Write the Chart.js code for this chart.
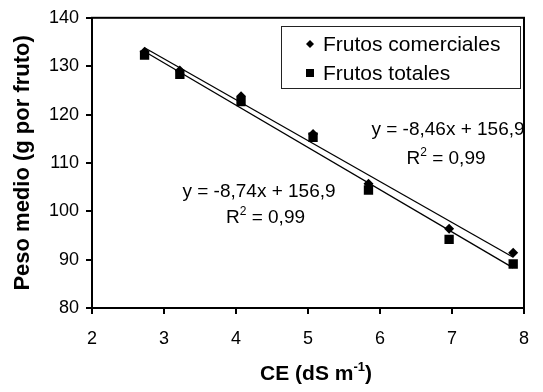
<!DOCTYPE html>
<html>
<head>
<meta charset="utf-8">
<script src="https://cdn.jsdelivr.net/npm/chart.js@4/dist/chart.umd.min.js"></script>
<style>
  html, body { margin: 0; padding: 0; background: #fff; }
  canvas { display: block; }
</style>
</head>
<body>
<canvas id="chart" width="543" height="392"></canvas>
<script>
// Electrical conductivity of the nutrient solution (dS m-1)
const ceValues = [2.73, 3.22, 4.07, 5.07, 5.84, 6.96, 7.85];
// Mean fruit weight (g per fruit)
const pesoComerciales = [133.0, 129.1, 123.8, 116.0, 105.7, 96.4, 91.4];
const pesoTotales = [132.3, 128.3, 122.7, 115.3, 104.4, 94.2, 89.1];
const seriesNames = ['Frutos comerciales', 'Frutos totales'];
// Linear fits: y = slope * x + intercept
const slopes = [-8.46, -8.74];
const intercepts = [156.9, 156.9];
const rSquared = [0.99, 0.99];
const xTickValues = [2, 3, 4, 5, 6, 7, 8];
const yTickValues = [80, 90, 100, 110, 120, 130, 140];

const FONT = '"Liberation Sans", Arial, sans-serif';
const fmt = v => String(v).replace('.', ',');

const toPoints = ys => ceValues.map((x, i) => ({ x, y: ys[i] }));
const fitLine = k => {
  const x0 = Math.min(...ceValues), x1 = Math.max(...ceValues);
  return [x0, x1].map(x => ({ x, y: slopes[k] * x + intercepts[k] }));
};

// Draw text runs, some of them as superscripts, centred on cx
function drawRuns(ctx, runs, cx, baseline, size, bold) {
  const w = bold ? 'bold ' : '';
  const supSize = Math.round(size * 0.62);
  let total = 0;
  runs.forEach(r => {
    ctx.font = w + (r.sup ? supSize : size) + 'px ' + FONT;
    r.w = ctx.measureText(r.t).width;
    total += r.w;
  });
  let x = cx - total / 2;
  ctx.textAlign = 'left';
  ctx.textBaseline = 'alphabetic';
  runs.forEach(r => {
    ctx.font = w + (r.sup ? supSize : size) + 'px ' + FONT;
    ctx.fillText(r.t, x, r.sup ? baseline - size * 0.42 : baseline);
    x += r.w;
  });
}

const annotations = {
  id: 'annotations',
  afterDraw(chart) {
    const { ctx, chartArea: a } = chart;
    ctx.save();
    // frame around the plot area
    ctx.strokeStyle = '#000';
    ctx.lineWidth = 2;
    ctx.strokeRect(a.left, a.top, a.right - a.left, a.bottom - a.top);

    // legend box
    ctx.fillStyle = '#fff';
    ctx.fillRect(281.5, 26.5, 239, 62);
    ctx.lineWidth = 1;
    ctx.strokeStyle = '#222';
    ctx.strokeRect(281.5, 26.5, 239, 62);
    ctx.fillStyle = '#000';
    // diamond
    ctx.beginPath();
    ctx.moveTo(310, 40); ctx.lineTo(314, 44); ctx.lineTo(310, 48); ctx.lineTo(306, 44);
    ctx.closePath(); ctx.fill();
    // square
    ctx.fillRect(306, 69, 8, 8);
    ctx.font = '21px ' + FONT;
    ctx.textAlign = 'left';
    ctx.textBaseline = 'alphabetic';
    ctx.fillText(seriesNames[0], 323, 51);
    ctx.fillText(seriesNames[1], 323, 80);

    // regression equations
    const eq = k => 'y = ' + fmt(slopes[k]) + 'x + ' + fmt(intercepts[k]);
    drawRuns(ctx, [{ t: eq(0) }], 448, 135, 19, false);
    drawRuns(ctx, [{ t: 'R' }, { t: '2', sup: true }, { t: ' = ' + fmt(rSquared[0].toFixed(2)) }], 446, 164, 19, false);
    drawRuns(ctx, [{ t: eq(1) }], 259, 197, 19, false);
    drawRuns(ctx, [{ t: 'R' }, { t: '2', sup: true }, { t: ' = ' + fmt(rSquared[1].toFixed(2)) }], 265.5, 223, 19, false);

    // x axis title
    drawRuns(ctx, [{ t: 'CE (dS m' }, { t: '-1', sup: true }, { t: ')' }], 316, 380, 21, true);
    ctx.restore();
  }
};

new Chart(document.getElementById('chart'), {
  type: 'scatter',
  data: {
    datasets: [
      {
        label: seriesNames[0], data: toPoints(pesoComerciales), order: 0,
        pointStyle: 'rectRot', pointRadius: 5, backgroundColor: '#000', borderColor: '#000', borderWidth: 0
      },
      {
        label: seriesNames[1], data: toPoints(pesoTotales), order: 0,
        pointStyle: 'rect', pointRadius: 6.6, backgroundColor: '#000', borderColor: '#000', borderWidth: 0
      },
      {
        label: 'fit ' + seriesNames[0], data: fitLine(0), order: 1, showLine: true,
        pointRadius: 0, borderColor: '#000', borderWidth: 1.3, fill: false
      },
      {
        label: 'fit ' + seriesNames[1], data: fitLine(1), order: 1, showLine: true,
        pointRadius: 0, borderColor: '#000', borderWidth: 1.3, fill: false
      }
    ]
  },
  options: {
    responsive: false,
    animation: false,
    devicePixelRatio: 1,
    layout: { padding: { top: 15, right: 6, left: 0, bottom: 0 } },
    plugins: { legend: { display: false }, tooltip: { enabled: false } },
    scales: {
      x: {
        type: 'linear', min: 2, max: 8,
        afterBuildTicks: s => { s.ticks = xTickValues.map(v => ({ value: v })); },
        afterFit: s => { s.height = 84; },
        grid: { drawOnChartArea: false, drawTicks: true, tickLength: 6, color: '#000', lineWidth: 2 },
        border: { color: '#000', width: 2 },
        ticks: { color: '#000', padding: 14, font: { family: FONT, size: 18 } }
      },
      y: {
        type: 'linear', min: 80, max: 140,
        afterBuildTicks: s => { s.ticks = yTickValues.map(v => ({ value: v })); },
        afterFit: s => { s.width = 92; },
        grid: { drawOnChartArea: false, drawTicks: true, tickLength: 6, color: '#000', lineWidth: 2 },
        border: { color: '#000', width: 2 },
        ticks: { color: '#000', padding: 7, font: { family: FONT, size: 18 } },
        title: {
          display: true, text: 'Peso medio (g por fruto)', color: '#000',
          font: { family: FONT, size: 22, weight: 'bold' }, padding: { top: 10, bottom: 0 }
        }
      }
    }
  },
  plugins: [annotations]
});
</script>
</body>
</html>
